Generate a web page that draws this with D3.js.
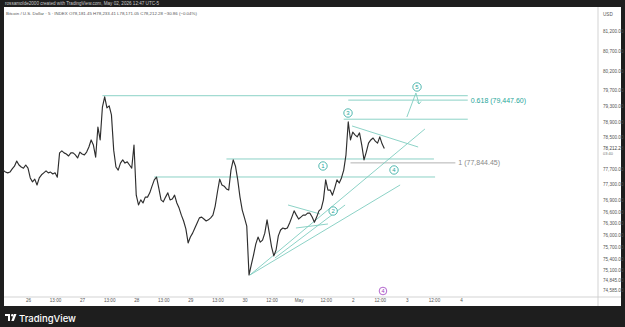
<!DOCTYPE html>
<html>
<head>
<meta charset="utf-8">
<script src="https://cdn.jsdelivr.net/npm/d3@7"></script>
<style>
  body { margin: 0; background: #1e1e1e; }
  svg { display: block; font-family: "Liberation Sans", Arial, sans-serif; }
</style>
</head>
<body>
<script>
// hourly closes, first one at Apr 25 13:00 (hour -11 from Apr 26 00:00)
var startHour = -11;
var closes = [
  77660, 77610, 77590, 77610, 77690, 77760, 77890, 77790, 77740, 77710,
  77790, 77710, 77460, 77360, 77430, 77280, 77460, 77540, 77590, 77640,
  77590, 77610, 77560, 77590, 77480, 78100, 78150, 78100, 78070, 78020,
  78100, 78100, 78050, 77970, 78120, 78070, 78050, 78120, 78250, 78430,
  78300, 77990, 78760, 78430, 79270, 79530, 79250, 79300, 79070, 78170,
  77740, 77660, 77840, 77920, 77840, 77870, 77790, 77710, 78300, 77020,
  76770, 76900, 76820, 76970, 76970, 77080, 77250, 77410, 77480, 77200,
  76900, 76850, 76970, 77080, 76900, 76920, 77020, 76820, 76690, 76510,
  76360, 76160, 75800, 75950, 76050, 76180, 76310, 76440, 76460, 76410,
  76360, 76390, 76440, 76510, 76740, 77100, 77430, 77280, 77250, 77180,
  77150, 77660, 77920, 77760, 77410, 76970, 76640, 76440, 76230, 74980,
  75240, 75490, 75770, 75950, 75820, 75870, 76050, 76390, 76050, 75700,
  75470, 75620, 75980, 76130, 76180, 76160, 76180, 76310, 76460, 76620,
  76510, 76410, 76460, 76510, 76510, 76560, 76560, 76460, 76330, 76460,
  76620, 76670, 76900, 77410, 77150, 77150, 77020, 77200, 77410, 77330,
  77460, 77660, 78050, 78890, 78430, 78630, 78560, 78510, 78610, 78300,
  77920, 78120, 78350, 78430, 78480, 78400, 78350, 78510, 78330, 78212.28
];
var lastPrice = 78212.28;

var timeTicks = [0, 12, 24, 36, 48, 60, 72, 84, 96, 108, 120, 132, 144, 156, 168, 180, 192];
var timeLabels = ["26", "13:00", "27", "13:00", "28", "13:00", "29", "13:00", "30", "12:00",
                  "May", "12:00", "2", "12:00", "3", "12:00", "4"];
var priceTicks = [81200, 80700, 80200, 79700, 79300, 78900, 78500, 77700, 77300, 76900,
                  76600, 76300, 76000, 75700, 75400, 75100, 74845, 74585];

// horizontal levels: [price, fromHour, toHour]
var tealLevels = [[79560, 33, 195], [78960, 140, 195], [77944, 88, 180], [77484, 56, 180.5]];
var fibLevels = [[79447.60, 142, 195, "0.618 (79,447.60)"], [77844.45, 143, 189.5, "1 (77,844.45)"]];
// trend lines: [h1, p1, h2, p2]
var trendLines = [
  [98.4, 74981, 176, 78710],
  [98.4, 74981, 165, 77280],
  [109.5, 75415, 140.6, 76769],
  [115.3, 76769, 129.5, 76539],
  [118.8, 76181, 133, 76284],
  [143.7, 78787, 173, 78250]
];
var wave5Path = [[168, 79016], [172, 79629], [173.4, 79348]];
var waveLabels = ["1", "2", "3", "4", "5"];
var waveHours = [130.8, 135.3, 141.9, 162.3, 172.5];
var wavePrices = [77765, 76615, 79118, 77663, 79783];

var W = 625, H = 327;
var teal = "#7fcdbf", tealText = "#26a69a";

var svg = d3.select("body").append("svg").attr("width", W).attr("height", H);

// white pane
svg.append("rect").attr("x", 4).attr("y", 7).attr("width", 617).attr("height", 299).attr("fill", "#fff");

var x = d3.scaleLinear().domain([0, 192]).range([28, 461]);
var y = d3.scaleLinear().domain([74585, 81200]).range([290.5, 31.5]);

// header texts
svg.append("text").attr("x", 5).attr("y", 5).attr("font-size", 4.6).attr("fill", "#c8c8c8")
  .text("rossamolde2000 created with TradingView.com, May 02, 2026 12:47 UTC-5");
svg.append("text").attr("x", 6).attr("y", 15).attr("font-size", 4.4).attr("fill", "#555")
  .text("Bitcoin / U.S. Dollar · 5 · INDEX   O78,181.45  H78,233.41  L78,171.05  C78,212.28  −30.86 (−0.04%)");

// axis borders
svg.append("line").attr("x1", 598).attr("x2", 598).attr("y1", 7).attr("y2", 306).attr("stroke", "#c8c8c8").attr("stroke-width", 0.8);
svg.append("line").attr("x1", 4).attr("x2", 621).attr("y1", 297).attr("y2", 297).attr("stroke", "#c8c8c8").attr("stroke-width", 0.8);

var yAxis = d3.axisRight(y).tickValues(priceTicks).tickFormat(d3.format(",.2f")).tickSize(0).tickPadding(4);
var yg = svg.append("g").attr("transform", "translate(599,0)").call(yAxis);
yg.select(".domain").remove();
yg.selectAll("text").attr("font-size", 4.6).attr("fill", "#555");
svg.append("text").attr("x", 603).attr("y", 16).attr("font-size", 4.6).attr("fill", "#555").text("USD");
svg.append("text").attr("x", 603).attr("y", y(lastPrice) + 1.5).attr("font-size", 4.6).attr("fill", "#444")
  .text(d3.format(",.2f")(lastPrice));
svg.append("text").attr("x", 603).attr("y", y(lastPrice) + 6.5).attr("font-size", 4).attr("fill", "#777").text("03:40");

var xAxis = d3.axisBottom(x).tickValues(timeTicks).tickFormat(function(d, i) { return timeLabels[i]; }).tickSize(0).tickPadding(2);
var xg = svg.append("g").attr("transform", "translate(0,297)").call(xAxis);
xg.select(".domain").remove();
xg.selectAll("text").attr("font-size", 4.6).attr("fill", "#555");

var plot = svg.append("g");

// levels
plot.selectAll(".lvl").data(tealLevels).enter().append("line")
  .attr("x1", d => x(d[1])).attr("x2", d => x(d[2]))
  .attr("y1", d => y(d[0])).attr("y2", d => y(d[0]))
  .attr("stroke", teal).attr("stroke-width", 0.9);

plot.selectAll(".fib").data(fibLevels).enter().append("line")
  .attr("x1", d => x(d[1])).attr("x2", d => x(d[2]))
  .attr("y1", d => y(d[0])).attr("y2", d => y(d[0]))
  .attr("stroke", (d, i) => i == 0 ? teal : "#aaa").attr("stroke-width", 0.9);
plot.selectAll(".fibt").data(fibLevels).enter().append("text")
  .attr("x", d => x(d[2]) + 3).attr("y", d => y(d[0]) + 2.5)
  .attr("font-size", 7).attr("fill", (d, i) => i == 0 ? tealText : "#888")
  .text(d => d[3]);

plot.selectAll(".tl").data(trendLines).enter().append("line")
  .attr("x1", d => x(d[0])).attr("y1", d => y(d[1]))
  .attr("x2", d => x(d[2])).attr("y2", d => y(d[3]))
  .attr("stroke", teal).attr("stroke-width", 0.9);

// price
var line = d3.line().x((d, i) => x(startHour + i)).y(d => y(d));
plot.append("path").datum(closes).attr("d", line)
  .attr("fill", "none").attr("stroke", "#2e2e2e").attr("stroke-width", 1.15).attr("stroke-linejoin", "round");

// wave 5 projection
var wl = d3.line().x(d => x(d[0])).y(d => y(d[1]));
plot.append("path").datum(wave5Path).attr("d", wl).attr("fill", "none").attr("stroke", teal).attr("stroke-width", 0.9);
var tip = wave5Path[2];
plot.append("path")
  .attr("d", "M" + (x(tip[0]) - 2) + "," + (y(tip[1]) - 2.5) + "L" + x(tip[0]) + "," + y(tip[1]) + "L" + (x(tip[0]) + 2) + "," + (y(tip[1]) - 2.5))
  .attr("fill", "none").attr("stroke", teal).attr("stroke-width", 0.9);

// wave labels
var wg = plot.selectAll(".wv").data(waveLabels).enter().append("g")
  .attr("transform", (d, i) => "translate(" + x(waveHours[i]) + "," + y(wavePrices[i]) + ")");
wg.append("circle").attr("r", 4.2).attr("fill", "#fff").attr("stroke", tealText).attr("stroke-width", 0.8);
wg.append("text").attr("text-anchor", "middle").attr("y", 2.1).attr("font-size", 6).attr("fill", tealText).text(d => d);

// event marker
var ev = svg.append("g").attr("transform", "translate(" + x(157.4) + ",291)");
ev.append("circle").attr("r", 3.8).attr("fill", "#fff").attr("stroke", "#a040c0").attr("stroke-width", 0.8);
ev.append("text").attr("text-anchor", "middle").attr("y", 2).attr("font-size", 5.5).attr("fill", "#a040c0").text("4");

// footer logo
var logo = svg.append("g").attr("transform", "translate(5,314)").attr("fill", "#fff");
logo.append("path").attr("d", "M0,0H5V7H3V2H0Z");
logo.append("circle").attr("cx", 7.3).attr("cy", 1.2).attr("r", 1.2);
logo.append("path").attr("d", "M9,0H11.5L8.8,7H6.3Z");
svg.append("text").attr("x", 19).attr("y", 321.5).attr("font-size", 9.5).attr("font-family", "Inter, 'Noto Sans', sans-serif")
  .attr("font-weight", 500).attr("fill", "#fff").text("TradingView");
</script>
</body>
</html>
